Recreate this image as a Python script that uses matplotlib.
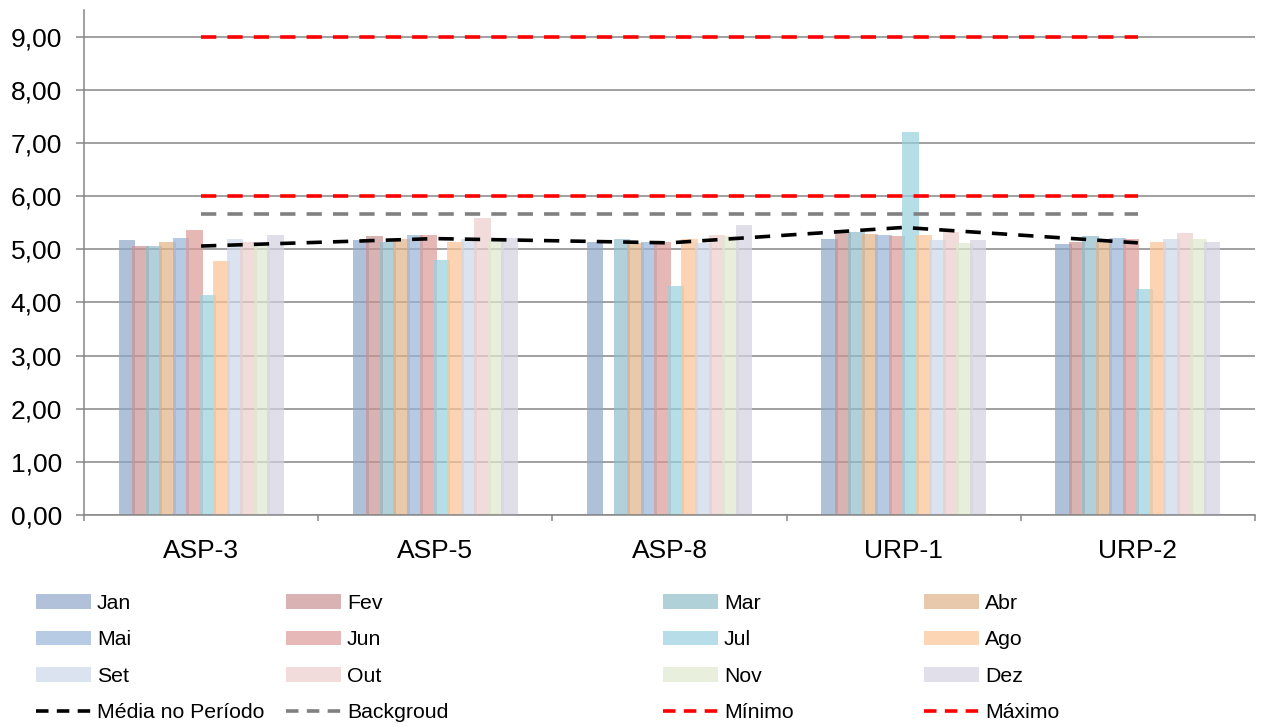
import numpy as np
import matplotlib.pyplot as plt
from matplotlib.colors import to_rgb
from matplotlib.lines import Line2D
from matplotlib.patches import Patch

plt.rcParams['font.family'] = ['Liberation Sans', 'DejaVu Sans']
plt.rcParams['lines.scale_dashes'] = False

# dados
pontos = ['ASP-3', 'ASP-5', 'ASP-8', 'URP-1', 'URP-2']
meses = ['Jan', 'Fev', 'Mar', 'Abr', 'Mai', 'Jun', 'Jul', 'Ago', 'Set', 'Out', 'Nov', 'Dez']

asp3 = [5.17, 5.07, 5.07, 5.13, 5.22, 5.37, 4.13, 4.78, 5.20, 5.13, 5.11, 5.26]
asp5 = [5.17, 5.25, 5.13, 5.19, 5.26, 5.27, 4.80, 5.14, 5.19, 5.59, 5.19, 5.21]
asp8 = [5.14, np.nan, 5.19, 5.12, 5.14, 5.13, 4.31, 5.19, 5.12, 5.27, 5.25, 5.45]
urp1 = [5.19, 5.30, 5.32, 5.29, 5.27, 5.24, 7.20, 5.27, 5.17, 5.33, 5.12, 5.17]
urp2 = [5.09, 5.13, 5.24, 5.14, 5.22, 5.19, 4.25, 5.13, 5.20, 5.30, 5.19, 5.13]

media = [5.06, 5.20, 5.12, 5.41, 5.12]
background = [5.67, 5.67, 5.67, 5.67, 5.67]
minimo = [6.0, 6.0, 6.0, 6.0, 6.0]
maximo = [9.0, 9.0, 9.0, 9.0, 9.0]

cores = ['#b0c1d9', '#d9b3b3', '#b1d1d9', '#e9c9ab', '#b7cbe4', '#e6b8b7',
         '#b7dee8', '#fcd5b5', '#dce3f0', '#f2dcdb', '#e8efdd', '#e1dfea']


def cor_transparente(c, a=0.7):
    # cor base que, com alpha a sobre branco, dá a cor vista
    rgb = np.array(to_rgb(c))
    base = np.clip((rgb - (1 - a)) / a, 0, 1)
    return (*base, a)


valores = np.array([asp3, asp5, asp8, urp1, urp2])
x = np.arange(len(pontos))
passo = 0.0577
largura = 0.0705

fig = plt.figure(figsize=(12.61, 7.27), dpi=100)
ax = fig.add_axes([0.0666, 0.2916, 0.9286, 0.6946])

ax.set_axisbelow(True)
ax.yaxis.grid(True, color='#868686', linewidth=1.1)

for i, mes in enumerate(meses):
    ax.bar(x + (i - 5.5) * passo, valores[:, i], width=largura,
           color=cor_transparente(cores[i]), linewidth=0, zorder=2)

ax.plot(x, media, color='black', linewidth=2.6, dashes=(11, 8), zorder=4)
ax.plot(x, background, color='#808080', linewidth=2.6, dashes=(11, 8), zorder=4)
ax.plot(x, minimo, color='#ff0000', linewidth=2.6, dashes=(11, 8), zorder=4)
ax.plot(x, maximo, color='#ff0000', linewidth=2.6, dashes=(11, 8), zorder=4)

ax.set_xlim(-0.5, 4.5)
ax.set_ylim(0, 9.5)
ax.set_yticks(np.arange(0, 10))
ax.set_yticklabels([f'{v:.2f}'.replace('.', ',') for v in range(10)])
ax.set_xticks(x)
ax.set_xticklabels(pontos)
ax.set_xticks(np.arange(-0.5, 5, 1), minor=True)

ax.tick_params(axis='x', which='major', length=0, pad=17, labelsize=19)
ax.tick_params(axis='x', which='minor', length=4.5, width=1.1, color='#868686')
ax.tick_params(axis='y', length=5.8, width=1.1, color='#868686', pad=10, labelsize=19)

for s in ['top', 'right']:
    ax.spines[s].set_visible(False)
for s in ['left', 'bottom']:
    ax.spines[s].set_color('#868686')
    ax.spines[s].set_linewidth(1.1)

# legenda em 4 colunas
def h_barra(i):
    return Patch(facecolor=cores[i], edgecolor='none', label=meses[i])

def h_linha(cor, nome):
    return Line2D([], [], color=cor, linewidth=2.6, dashes=(9, 6), label=nome)

colunas = [
    [h_barra(0), h_barra(4), h_barra(8), h_linha('black', 'Média no Período')],
    [h_barra(1), h_barra(5), h_barra(9), h_linha('#808080', 'Backgroud')],
    [h_barra(2), h_barra(6), h_barra(10), h_linha('#ff0000', 'Mínimo')],
    [h_barra(3), h_barra(7), h_barra(11), h_linha('#ff0000', 'Máximo')],
]
pos_x = [36, 286, 663, 924]
for px, hs in zip(pos_x, colunas):
    fig.legend(handles=hs, loc='upper left', bbox_to_anchor=(px / 1261, 1 - 594 / 727),
               frameon=False, fontsize=15.3, handlelength=2.58, handleheight=0.66,
               handletextpad=0.28, labelspacing=0.82, borderpad=0, borderaxespad=0)

fig.savefig('out.png', dpi=100)
